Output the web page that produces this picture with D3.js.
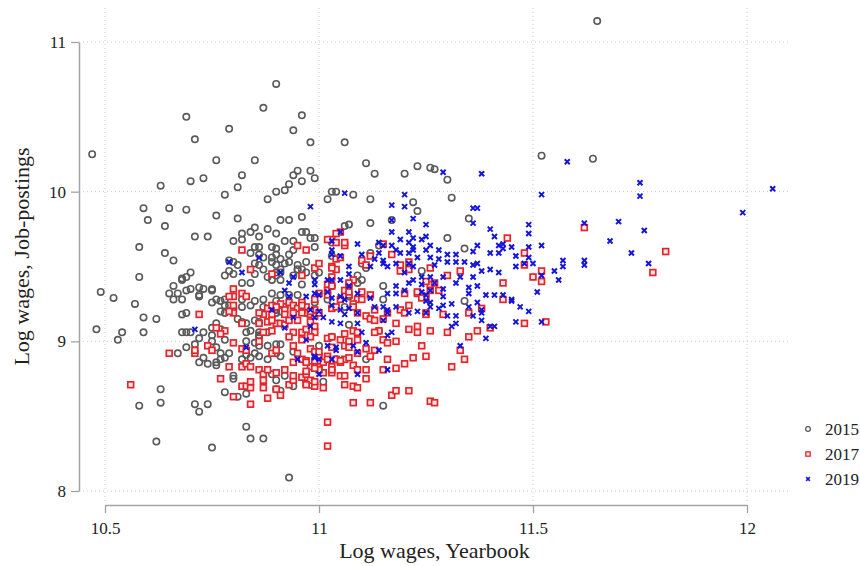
<!DOCTYPE html>
<html>
<head>
<meta charset="utf-8">
<script src="https://cdn.jsdelivr.net/npm/d3@7"></script>
<style>
  html, body { margin: 0; padding: 0; background: #fff; }
  svg { display: block; }
  text { font-family: "Liberation Serif", "Times New Roman", serif; fill: #222; }
</style>
</head>
<body>
<svg id="chart" width="860" height="566"></svg>
<script>
// Log wages: yearbook (x) against job postings (y), one point per occupation/region cell.
const xTicks = [10.5, 11, 11.5, 12];
const yTicks = [8, 9, 10, 11];
const xTitle = "Log wages, Yearbook";
const yTitle = "Log wages, Job-postings";
const seriesNames = ["2015", "2017", "2019"];

const year2015 = [
[10.47,10.25],[10.63,10.04],[10.69,10.50],[10.71,10.35],[10.70,10.07],[10.73,10.09],[10.76,10.21],[10.79,10.42],[10.78,9.98],[10.81,10.03],[10.82,10.11],[10.85,10.21],[10.87,10.56],[10.90,10.72],[10.94,10.41],[10.96,10.51],[10.95,10.14],[10.94,10.11],[10.93,10.05],[10.92,10.01],[10.88,9.95],
[10.98,10.33],[10.98,10.14],[10.99,10.09],[10.96,10.07],[10.90,10.00],[10.59,9.89],[10.65,9.89],[10.69,9.88],[10.60,9.81],[10.64,9.77],[10.76,9.84],[10.81,9.82],[10.91,9.81],[10.93,9.81],[10.96,9.83],[10.58,9.63],[10.64,9.59],[10.66,9.54],[10.71,9.70],[10.74,9.70],[10.80,9.67],[10.82,9.72],[10.84,9.73],[10.85,9.76],[10.86,9.70],[10.88,9.75],[10.90,9.72],[10.82,9.68],[10.85,9.63],[10.86,9.63],[10.89,9.63],[10.90,9.62],[10.94,9.67],[10.96,9.73],[10.98,9.69],[10.99,9.69],[10.97,9.73],[10.99,9.63],[10.87,9.56],[10.89,9.53],[10.91,9.55],[10.90,9.51],[10.92,9.52],[10.95,9.51],[10.97,9.53],[10.86,9.51],[10.85,9.52],[10.79,9.54],[10.81,9.51],[10.80,9.53],[10.78,9.44],[10.80,9.45],[10.79,9.47],[10.68,9.42],[10.70,9.46],[10.58,9.43],[10.85,9.45],[10.88,9.43],[10.91,9.46],[10.94,9.44],[10.95,9.48],[10.97,9.46],[10.99,9.44],
[10.94,9.61],[10.92,9.67],[10.84,9.59],[10.86,9.58],[10.89,9.56],[10.90,9.58],[10.93,9.53],[10.93,9.58],[10.87,9.48],[10.90,9.46],[10.91,9.48],[10.89,9.41],[10.90,9.44],[10.91,9.41],[10.95,9.48],[11.07,9.78],[11.06,9.77],[11.03,9.66],
[10.66,9.37],[10.69,9.34],[10.70,9.35],[10.72,9.36],[10.73,9.35],[10.75,9.35],[10.82,9.39],[10.84,9.39],[10.49,9.33],[10.52,9.29],[10.57,9.25],[10.65,9.32],[10.66,9.28],[10.72,9.31],[10.75,9.26],[10.77,9.27],[10.78,9.24],[10.79,9.24],[10.82,9.23],[10.80,9.22],[10.89,9.32],[10.91,9.31],[10.93,9.31],[10.95,9.31],[10.77,9.20],[10.78,9.19],[10.68,9.18],[10.69,9.19],[10.59,9.16],[10.62,9.15],[10.81,9.15],[10.76,9.12],[10.75,9.09],[10.86,9.13],[10.48,9.08],[10.54,9.06],[10.53,9.01],[10.59,9.06],[10.68,9.06],[10.69,9.06],[10.70,9.06],[10.69,8.96],[10.67,8.92],[10.71,8.98],[10.72,9.02],[10.73,9.06],[10.75,9.00],[10.75,9.04],[10.77,9.08],[10.78,9.01],[10.76,8.96],[10.82,9.13],[10.83,9.06],[10.84,9.07],[10.86,9.06],[10.88,9.06],[10.86,9.03],[10.90,8.98],[10.91,8.98],[10.85,8.92],[10.84,8.89],[10.86,8.90],[10.72,8.86],[10.73,8.89],[10.74,8.85],[10.76,8.86],[10.77,8.88],[10.78,8.89],[10.79,8.92],[10.76,8.84],[10.77,8.92],[10.80,8.77],[10.80,8.75],[10.78,8.66],[10.81,8.63],[10.90,8.74],[10.90,8.68],[10.92,8.77],[10.63,8.68],[10.63,8.59],[10.58,8.57],[10.71,8.58],[10.72,8.53],[10.74,8.58],[10.83,8.43],[10.84,8.35],[10.87,8.35],[10.62,8.33],[10.75,8.29],[10.93,8.09],[10.83,8.65],
[10.68,9.41],[10.69,9.43],[10.72,9.30],[10.75,9.34],[10.68,9.28],[10.67,9.32],[10.76,9.28],[10.78,9.28],[10.83,9.12],[10.85,9.14],[10.82,9.28],[10.84,9.24],[10.85,9.27],[10.87,9.28],[10.87,9.23],[10.90,9.19],[10.90,9.21],[10.91,9.20],[10.92,9.23],[10.90,9.27],
[10.86,9.04],[10.83,9.00],[10.85,8.99],[10.86,8.97],[10.88,8.97],[10.90,8.92],[10.91,8.90],[10.94,8.93],[10.83,8.91],[10.88,8.88],[10.82,8.88],[10.91,8.67],[10.94,8.70],[10.89,8.78],[10.98,8.71],
[11.06,10.33],[11.11,10.19],[11.13,10.12],[11.20,10.12],[11.23,10.17],[11.26,10.16],[11.27,10.15],[11.30,10.08],[11.02,9.95],[11.03,10.00],[11.04,10.00],[11.08,9.98],[11.12,9.95],[11.31,9.96],[11.22,9.93],[11.23,9.87],[11.12,9.79],[11.17,9.81],[11.35,9.82],[11.30,9.69],[11.34,9.62],[11.12,9.59],[11.14,9.64],[11.09,9.44],[11.11,9.49],[11.10,9.52],[10.96,9.48],[11.00,9.46],[11.24,9.47],[11.52,10.24],[11.64,10.22],[11.65,11.14],
[11.15,9.37],[11.15,9.28],[11.34,9.27],[11.06,9.23],[11.07,9.11],[11.14,9.07],[11.03,9.57],[11.10,9.41],
[10.96,9.38],[11.03,9.37],[11.09,9.39],[10.99,9.26],[11.02,9.28],[11.07,9.30],[11.03,9.03],[11.00,8.97],[11.11,8.88],[11.01,8.73],[11.15,8.57],[10.96,9.20],[10.97,9.19],[11.04,8.88]
];

const year2017 = [
[10.82,9.61],[10.95,9.64],[10.84,9.48],[10.89,9.45],[10.96,9.44],[10.99,9.49],
[10.80,9.30],[10.82,9.32],[10.83,9.30],[10.80,9.19],[10.72,9.18],[10.82,9.12],[10.78,9.07],[10.76,9.09],[10.77,9.05],[10.65,8.92],[10.71,8.92],[10.71,8.94],[10.74,8.97],[10.75,8.94],[10.80,8.99],[10.82,8.95],[10.83,8.94],[10.86,9.00],[10.87,9.06],[10.87,9.18],[10.89,9.18],[10.88,9.13],[10.90,9.12],[10.91,9.12],[10.92,9.11],[10.91,9.25],[10.93,9.26],[10.94,9.24],[10.95,9.22],[10.96,9.26],[10.97,9.23],[10.98,9.18],[10.99,9.21],[10.82,8.83],[10.83,8.85],[10.84,8.83],[10.79,8.83],[10.77,8.75],[10.82,8.70],[10.83,8.70],[10.84,8.69],[10.84,8.73],[10.84,8.58],[10.80,8.63],[10.86,8.81],[10.87,8.78],[10.88,8.81],[10.87,8.74],[10.87,8.69],[10.91,8.64],[10.93,8.71],[10.94,8.74],[10.96,8.76],[10.97,8.72],[10.98,8.74],[10.99,8.70],[10.92,8.81],[10.94,8.86],[10.96,8.88],[10.97,8.87],[10.98,8.83],[10.94,8.97],[10.96,9.01],[10.98,8.95],[10.99,8.93],[10.89,8.92],[10.90,8.94],[10.56,8.71],[10.90,8.68],
[10.97,9.61],[11.00,9.52],[11.03,9.50],[11.03,9.43],[11.02,9.38],[11.02,9.34],[11.05,9.73],[11.06,9.64],[11.04,9.55],[11.05,9.56],[11.04,9.48],[10.80,9.35],[10.79,9.30],[10.79,9.20],[10.80,9.24],[10.86,9.19],[10.88,9.22],[10.89,9.24],[10.90,9.23],[10.92,9.21],[10.92,9.18],[10.93,9.14],[10.89,9.14],[10.86,9.12],[10.89,9.07],[10.94,9.19],[10.96,9.24],[10.96,9.19],[10.95,9.14],[10.98,9.13],[10.99,9.17],[10.99,9.10],[10.99,9.06],[10.98,9.03],[10.96,9.06],[10.94,9.06],[10.93,9.03],[10.95,8.92],[11.00,8.90],[11.00,8.86],[11.03,8.83],[11.05,8.86],[11.06,8.88],[11.08,8.84],[11.02,8.90],[11.02,9.02],[11.03,9.03],[11.05,9.01],[11.06,8.97],[11.06,9.05],[11.08,9.07],[11.09,9.01],[11.07,9.00],[11.03,9.68],[11.04,9.72],[11.06,9.66],[11.06,9.34],[11.07,9.38],[11.09,9.28],[11.09,9.19],[11.08,9.41],[10.90,8.79],[10.94,8.77],[10.97,8.78],[10.97,8.71],[10.99,8.73],[11.01,8.79],[11.00,8.83],[11.03,8.79],[11.05,8.77],[11.06,8.71],[11.08,8.70],[10.88,8.62],
[11.07,9.39],[11.03,9.37],[11.00,9.32],[11.02,9.31],[10.99,9.28],[10.98,9.20],[11.00,9.19],[11.03,9.22],[11.05,9.28],[11.07,9.31],[11.08,9.25],[11.10,9.28],[11.12,9.31],[11.11,9.17],[11.12,9.15],[11.13,9.21],[11.16,9.19],[11.19,9.21],[11.20,9.19],[11.23,9.32],[11.25,9.30],[11.26,9.34],[11.28,9.34],[11.26,9.38],[11.25,9.19],[11.20,9.32],[11.43,9.39],[11.52,9.40],[11.43,9.28],[11.35,9.19],[11.38,9.22],[11.40,9.09],[11.37,9.07],[11.35,9.03],[11.30,9.06],[11.26,9.07],[11.23,9.06],[11.23,9.10],[11.21,9.08],[11.18,9.12],[11.13,9.14],[11.15,9.15],[11.18,9.00],[11.25,8.90],[11.24,8.97],[11.22,8.89],[11.20,8.85],[11.18,8.82],[11.15,8.81],[11.11,8.81],[11.11,8.75],[11.09,8.69],[11.08,8.59],[11.12,8.59],[11.17,8.64],[11.18,8.67],[11.21,8.67],[11.26,8.60],[11.27,8.59],[11.31,8.83],[11.33,8.94],[11.34,8.88],[11.48,9.12],[11.53,9.13],[11.16,8.88],[11.13,8.94],[11.02,8.46],
[10.97,9.08],[11.00,8.93],[11.01,8.86],[10.97,8.86],[10.97,8.80],[11.00,8.81],[11.01,8.69],[11.03,8.81],[11.04,8.88],[11.05,8.87],[11.06,8.77],[11.09,8.81],[11.07,8.89],[11.09,8.92],[11.11,8.95],[11.12,8.90],[11.15,9.01],[11.16,8.99],[11.14,9.07],[11.07,8.96],[11.03,8.96],[11.02,8.88],[10.99,8.87],[10.99,8.82],
[11.02,9.68],[11.04,9.66],[11.03,9.49],[11.10,9.54],[11.11,9.51],[11.12,9.57],[11.15,9.65],[11.17,9.58],[11.19,9.47],[11.21,9.53],[11.26,9.49],[11.30,9.44],[11.33,9.47],[11.44,9.69],[11.48,9.59],[11.48,9.51],[11.50,9.43],[11.52,9.47],
[11.19,9.51],[11.21,9.48],[11.25,9.40],[11.27,9.39],[11.23,9.33],[11.24,9.29],[11.21,9.24],[11.29,9.18],[11.25,9.18],[11.13,9.06],[11.09,9.06],[11.08,9.23],[11.10,9.33],[11.07,9.33],[11.04,9.23],
[11.62,9.76],[11.81,9.60],[11.78,9.46],[11.02,8.30]
];

const year2019 = [
[10.98,9.90],[10.79,9.53],[10.86,9.56],[10.82,9.46],[10.91,9.46],[10.94,9.43],
[10.93,9.39],[10.93,9.30],[10.97,9.30],[10.99,9.38],[10.98,9.21],[10.99,9.32],[10.89,9.21],[10.94,9.16],[10.92,9.09],[10.97,9.01],[10.95,8.88],[10.99,8.89],[10.71,9.08],[10.83,8.96],
[10.92,9.34],[11.05,9.73],[11.03,9.67],[11.03,9.58],[11.05,9.57],[11.07,9.50],[11.07,9.45],[11.05,9.41],[11.03,9.41],[11.02,9.41],[10.99,9.41],[11.00,9.31],[11.02,9.33],[11.00,9.20],[11.01,9.16],[11.03,9.13],[11.05,9.21],[11.06,9.18],[11.07,9.22],[11.09,9.19],[11.06,9.28],[11.05,9.30],[11.09,9.32],[11.07,9.37],[11.03,9.29],[11.03,9.24],[11.04,8.96],[11.02,8.97],[11.03,8.88],[11.00,8.78],[10.99,8.90],
[11.29,10.13],[11.38,10.12],[11.06,9.99],[11.20,9.98],[11.17,9.91],[11.20,9.90],[11.36,9.89],[11.37,9.89],[11.22,9.82],[11.25,9.78],[11.17,9.81],[11.52,9.98],[11.36,9.79],[11.40,9.75],[11.41,9.70],[11.49,9.78],[11.49,9.72],[11.49,9.63],[11.52,9.64],[11.42,9.64],[11.43,9.62],[11.43,9.65],[11.45,9.63],[11.46,9.57],[11.49,9.56],[11.42,9.59],[11.40,9.59],[11.17,9.73],[11.19,9.68],[11.21,9.66],[11.22,9.69],[11.24,9.68],[11.25,9.70],[11.26,9.64],[11.28,9.61],[11.25,9.61],[11.22,9.61],[11.21,9.59],[11.19,9.59],[11.17,9.64],[11.15,9.64],[11.14,9.66],[11.09,9.65],[11.03,9.61],[11.14,9.59],[11.12,9.50],[11.15,9.52],[11.18,9.52],[11.21,9.52],[11.23,9.56],[11.26,9.56],[11.28,9.55],[11.30,9.53],[11.32,9.53],[11.34,9.53],[11.36,9.51],[11.37,9.52],[11.37,9.64],[11.30,9.58],[11.27,9.51],
[11.21,9.73],[11.50,9.52],[11.48,9.52],[11.46,9.50],[11.40,9.48],[11.42,9.46],[11.38,9.47],[11.36,9.60],[11.32,9.58],[11.22,9.63],[11.18,9.61],[11.13,9.55],[11.10,9.58],[11.15,9.54],[11.16,9.50],[11.20,9.46],[11.22,9.50],[11.22,9.41],[11.24,9.43],[11.26,9.43],[11.27,9.39],[11.29,9.43],[11.32,9.39],[11.33,9.43],[11.36,9.43],[11.35,9.36],[11.37,9.37],[11.39,9.31],[11.41,9.31],[11.43,9.31],[11.45,9.28],[11.52,9.44],[11.55,9.47],[11.56,9.41],[11.51,9.33],[11.46,9.13],[11.52,9.13],[11.47,9.23],[11.49,9.20],[11.38,9.21],[11.36,9.17],[11.32,9.12],[11.31,9.10],[11.30,9.17],[11.28,9.22],[11.26,9.26],[11.25,9.27],[11.23,9.20],[11.21,9.19],[11.18,9.23],[11.16,9.21],[11.13,9.23],[11.12,9.29],[11.16,9.32],[11.18,9.37],[11.20,9.34],[11.24,9.33],[11.25,9.31],[11.29,9.30],[11.31,9.25],[11.35,9.23],[11.37,9.26],[11.40,9.10],[11.45,9.27],
[10.99,9.16],[10.98,9.10],[11.05,9.12],[11.09,9.12],[11.10,9.06],[11.08,8.97],[11.11,8.99],[11.09,8.93],[11.15,9.23],[11.16,9.19],[11.15,9.14],[11.18,9.32],[11.21,9.39],[11.24,9.38],[11.26,9.34],[11.29,9.35],[11.35,9.32],[11.32,9.17],[11.38,9.19],[11.38,9.14],[11.39,9.02],[11.33,8.97],[11.29,9.24],[11.26,9.23],[11.25,9.19],[11.14,8.94],[11.16,8.81],[11.09,8.78],[11.00,8.88],[11.04,8.94],[11.16,9.04],[11.17,9.06],[11.41,9.10],
[11.58,10.20],[11.75,10.06],[11.75,9.97],[12.06,10.02],[11.99,9.86],[11.62,9.79],[11.70,9.80],[11.76,9.74],[11.68,9.67],[11.73,9.59],[11.77,9.52],[11.57,9.54],[11.57,9.50],[11.62,9.54],[11.62,9.51]
];

const svg = d3.select("#chart");

const x = d3.scaleLinear().domain([10.5, 12]).range([105, 747]);
const y = d3.scaleLinear().domain([8, 11]).range([491, 42]);

// Plot region edges (the frame the grid spans)
const plotLeft = 79, plotRight = 790, plotTop = 8, plotBottom = 505;

// Dotted grid lines at each major tick
const grid = svg.append("g").attr("stroke", "#c9c9c9").attr("stroke-width", 1)
  .attr("stroke-dasharray", "1,3");
grid.selectAll("line.h").data(yTicks).join("line")
  .attr("x1", plotLeft).attr("x2", plotRight)
  .attr("y1", d => y(d)).attr("y2", d => y(d));
grid.selectAll("line.v").data(xTicks).join("line")
  .attr("x1", d => x(d)).attr("x2", d => x(d))
  .attr("y1", plotTop).attr("y2", plotBottom - 3);

// Axes
const axisColor = "#a3a3a3";
const yAxis = svg.append("g").attr("transform", `translate(${plotLeft},0)`)
  .call(d3.axisLeft(y).tickValues(yTicks).tickFormat(d3.format("")).tickSize(8).tickSizeOuter(0).tickPadding(5));
const xAxis = svg.append("g").attr("transform", `translate(0,${plotBottom})`)
  .call(d3.axisBottom(x).tickValues(xTicks).tickFormat(d3.format("")).tickSize(8).tickSizeOuter(0).tickPadding(9));
[xAxis, yAxis].forEach(g => {
  g.select(".domain").attr("stroke", axisColor).attr("stroke-width", 1.5);
  g.selectAll(".tick line").attr("stroke", axisColor).attr("stroke-width", 1.3);
  g.selectAll(".tick text").attr("fill", "#222").style("font-size", "17px")
    .style("font-family", '"Liberation Serif", serif');
});

// Axis titles
svg.append("text").attr("x", (plotLeft + plotRight) / 2).attr("y", 558)
  .attr("text-anchor", "middle").style("font-size", "22px").text(xTitle);
svg.append("text").attr("transform", `translate(29,${(plotTop + plotBottom) / 2}) rotate(-90)`)
  .attr("text-anchor", "middle").style("font-size", "22px").text(yTitle);

// Marker styles per series
const styles = [
  { data: year2015, color: "#5a5a5a", kind: "circle" },
  { data: year2017, color: "#e3242b", kind: "square" },
  { data: year2019, color: "#1414dc", kind: "x" }
];

function drawMarker(sel, kind, color, s) {
  if (kind === "circle") {
    sel.append("circle").attr("r", 3.2 * s).attr("fill", "none")
      .attr("stroke", color).attr("stroke-width", 1.6 * s);
  } else if (kind === "square") {
    const h = 2.9 * s;
    sel.append("rect").attr("x", -h).attr("y", -h).attr("width", 2 * h).attr("height", 2 * h)
      .attr("fill", "#fde9e9").attr("stroke", color).attr("stroke-width", 1.7 * s);
  } else {
    const h = 2.5 * s;
    sel.append("path").attr("d", `M${-h},${-h}L${h},${h}M${-h},${h}L${h},${-h}`)
      .attr("stroke", color).attr("stroke-width", 2 * s).attr("fill", "none");
  }
}

styles.forEach(st => {
  const g = svg.append("g");
  g.selectAll("g").data(st.data).join("g")
    .attr("transform", d => `translate(${x(d[0])},${y(d[1])})`)
    .each(function () { drawMarker(d3.select(this), st.kind, st.color, 1); });
});

// Legend
const legend = svg.append("g");
seriesNames.forEach((name, i) => {
  const row = legend.append("g").attr("transform", `translate(808,${429 + i * 25})`);
  drawMarker(row, styles[i].kind, styles[i].color, 0.75);
  row.append("text").attr("x", 17).attr("y", 5.5).style("font-size", "17px").text(name);
});
</script>
</body>
</html>
